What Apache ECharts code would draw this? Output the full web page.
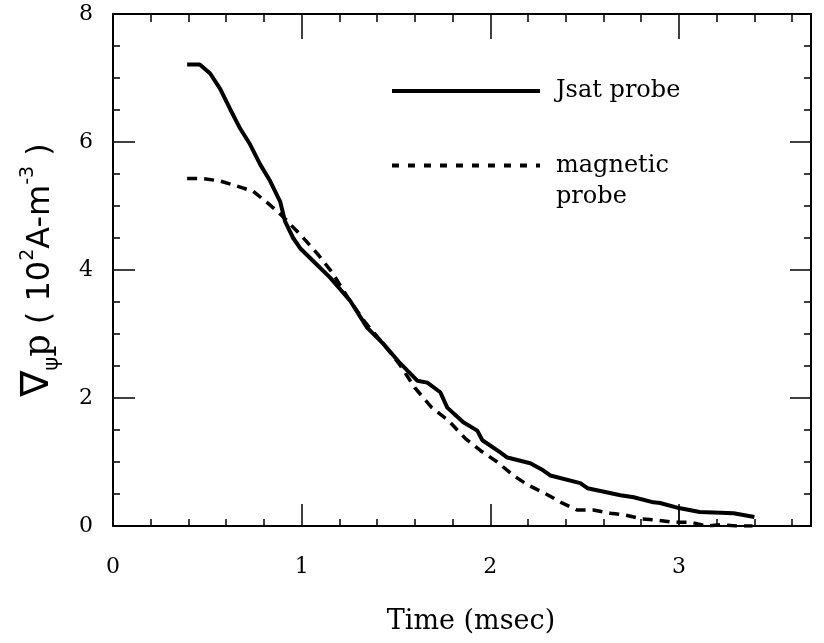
<!DOCTYPE html>
<html><head><meta charset="utf-8">
<script src="https://cdn.jsdelivr.net/npm/echarts@6/dist/echarts.min.js"></script>
<style>html,body{margin:0;padding:0;background:#fff}#c{width:824px;height:643px}</style>
</head><body><div id="c"></div>
<script>
// Jsat probe (solid)
const jsatTime  = [0.393,0.46,0.515,0.568,0.62,0.674,0.727,0.78,0.833,0.886,0.912,0.955,0.992,1.061,1.151,1.257,1.347,1.432,1.523,1.613,1.666,1.735,1.772,1.857,1.931,1.958,2.053,2.09,2.212,2.28,2.318,2.477,2.515,2.69,2.76,2.865,2.90,3.0,3.11,3.29,3.40];
const jsatValue = [7.21,7.21,7.07,6.83,6.52,6.21,5.96,5.65,5.39,5.07,4.76,4.50,4.34,4.14,3.88,3.52,3.10,2.85,2.54,2.27,2.24,2.09,1.85,1.62,1.49,1.34,1.15,1.07,0.98,0.87,0.79,0.67,0.59,0.48,0.45,0.37,0.36,0.28,0.22,0.20,0.14];
// magnetic probe (dashed)
const magTime  = [0.393,0.477,0.568,0.658,0.743,0.822,0.87,0.912,1.003,1.082,1.162,1.247,1.337,1.432,1.52,1.60,1.69,1.777,1.867,1.947,2.037,2.122,2.20,2.29,2.38,2.46,2.546,2.637,2.716,2.806,2.89,2.966,3.06,3.15,3.22,3.31,3.39];
const magValue = [5.43,5.43,5.39,5.31,5.23,5.04,4.92,4.80,4.52,4.26,3.96,3.56,3.18,2.85,2.52,2.16,1.85,1.65,1.37,1.18,1.00,0.79,0.64,0.51,0.36,0.25,0.25,0.20,0.17,0.11,0.09,0.06,0.06,0.0,0.02,0.0,0.0];
// stray vertical stroke at t = 3
const strokeTime = [3, 3];
const strokeValue = [0, 0.28];
// ticks
const xMajorTicks = [0, 1, 2, 3];
const xMinorTicks = [0.2,0.4,0.6,0.8,1.2,1.4,1.6,1.8,2.2,2.4,2.6,2.8,3.2,3.4,3.6];
const yTickValues = [0, 2, 4, 6, 8];

const pair = (xs, ys) => xs.map((x, i) => [x, ys[i]]);
const black = '#000';
const numFont = 'DejaVu Serif';

const chart = echarts.init(document.getElementById('c'), null, {renderer: 'canvas'});

const baseX = {type: 'value', min: 0, max: 3.7, interval: 1, splitLine: {show: false}};
const legendBase = {
  left: 390, orient: 'vertical', padding: 0, itemWidth: 148, itemHeight: 14, selectedMode: false,
  itemStyle: {opacity: 0}
};
const option = {
  backgroundColor: '#fff',
  animation: false,
  grid: {left: 113, right: 13, top: 14, bottom: 117, containLabel: false, outerBoundsMode: 'none'},
  legend: [
    Object.assign({}, legendBase, {
      data: [{name: 'Jsat probe'}], top: 79,
      lineStyle: {color: black, width: 4, type: 'solid'},
      textStyle: {fontFamily: 'DejaVu Serif', fontSize: 24, color: black, padding: [0, 0, 0, 11]}
    }),
    Object.assign({}, legendBase, {
      data: [{name: 'magnetic probe'}], top: 119,
      formatter: () => ' \nmagnetic\nprobe',
      lineStyle: {color: black, width: 4, type: [7, 9]},
      textStyle: {fontFamily: 'DejaVu Serif', fontSize: 24, lineHeight: 31, color: black, padding: [0, 0, 0, 11]}
    })
  ],
  xAxis: [
    Object.assign({}, baseX, {
      position: 'bottom',
      axisLine: {onZero: false, lineStyle: {color: black, width: 2}},
      axisTick: {inside: true, length: 22, customValues: xMajorTicks, lineStyle: {color: black, width: 1.5}},
      axisLabel: {customValues: xMajorTicks, margin: 30, fontSize: 22, fontFamily: numFont, color: black},
      name: 'Time (msec)', nameLocation: 'middle', nameGap: 82,
      nameTextStyle: {fontFamily: 'DejaVu Serif', fontSize: 27, color: black, padding: [0, 0, 0, 18]}
    }),
    Object.assign({}, baseX, {
      position: 'bottom', axisLine: {show: false, onZero: false},
      axisTick: {inside: true, length: 7, customValues: xMinorTicks, lineStyle: {color: black, width: 1.5}},
      axisLabel: {show: false}
    }),
    Object.assign({}, baseX, {
      position: 'top',
      axisLine: {onZero: false, lineStyle: {color: black, width: 2}},
      axisTick: {inside: true, length: 25, customValues: xMajorTicks, lineStyle: {color: black, width: 1.5}},
      axisLabel: {show: false}
    }),
    Object.assign({}, baseX, {
      position: 'top', axisLine: {show: false, onZero: false},
      axisTick: {inside: true, length: 8, customValues: xMinorTicks, lineStyle: {color: black, width: 1.5}},
      axisLabel: {show: false}
    })
  ],
  yAxis: [
    {type: 'value', min: 0, max: 8, interval: 2, position: 'left',
     axisLine: {onZero: false, lineStyle: {color: black, width: 2}},
     axisTick: {inside: true, length: 22, lineStyle: {color: black, width: 1.5}},
     minorTick: {show: true, splitNumber: 4, length: 7, lineStyle: {color: black, width: 1.5}},
     axisLabel: {customValues: yTickValues, margin: 20, fontSize: 22, fontFamily: numFont, color: black},
     splitLine: {show: false},
     name: '{n|∇}{s|ψ}{p|p}{t| ( 10}{u|2}{t|A-m}{u|-3}{t| )}',
     nameLocation: 'middle', nameGap: 50,
     nameTextStyle: {
       color: black, fontFamily: 'DejaVu Sans',
       rich: {
         n: {fontSize: 39, fontFamily: 'DejaVu Sans', lineHeight: 46, verticalAlign: 'bottom', padding: [0, 0, 6, 0], color: black},
         s: {fontSize: 21, fontFamily: 'DejaVu Sans', lineHeight: 46, verticalAlign: 'bottom', color: black},
         p: {fontSize: 35, fontFamily: 'DejaVu Serif', lineHeight: 46, verticalAlign: 'bottom', padding: [0, 0, 6, 0], color: black},
         t: {fontSize: 32, fontFamily: 'DejaVu Sans', lineHeight: 46, verticalAlign: 'bottom', padding: [0, 0, 6, 0], color: black},
         u: {fontSize: 19, fontFamily: 'DejaVu Sans', lineHeight: 46, verticalAlign: 'top', padding: [2, 0, 0, 0], color: black}
       }
     }},
    {type: 'value', min: 0, max: 8, interval: 2, position: 'right',
     axisLine: {onZero: false, lineStyle: {color: black, width: 2}},
     axisTick: {inside: true, length: 21, lineStyle: {color: black, width: 1.5}},
     minorTick: {show: true, splitNumber: 4, length: 7, lineStyle: {color: black, width: 1.5}},
     axisLabel: {show: false}, splitLine: {show: false}}
  ],
  series: [
    {name: 'Jsat probe', type: 'line', xAxisIndex: 0, yAxisIndex: 0, data: pair(jsatTime, jsatValue),
     symbol: 'none', smooth: false, lineStyle: {color: black, width: 4, type: 'solid'}, itemStyle: {color: black}, z: 3},
    {name: 'magnetic probe', type: 'line', xAxisIndex: 0, yAxisIndex: 0, data: pair(magTime, magValue),
     symbol: 'none', smooth: false, lineStyle: {color: black, width: 3.5, type: [10, 7]}, itemStyle: {color: black}, z: 2},
    {name: 'stroke', type: 'line', xAxisIndex: 0, yAxisIndex: 0, data: pair(strokeTime, strokeValue),
     symbol: 'none', lineStyle: {color: black, width: 1.2}, z: 1, legendHoverLink: false}
  ]
};
chart.setOption(option);
</script></body></html>
